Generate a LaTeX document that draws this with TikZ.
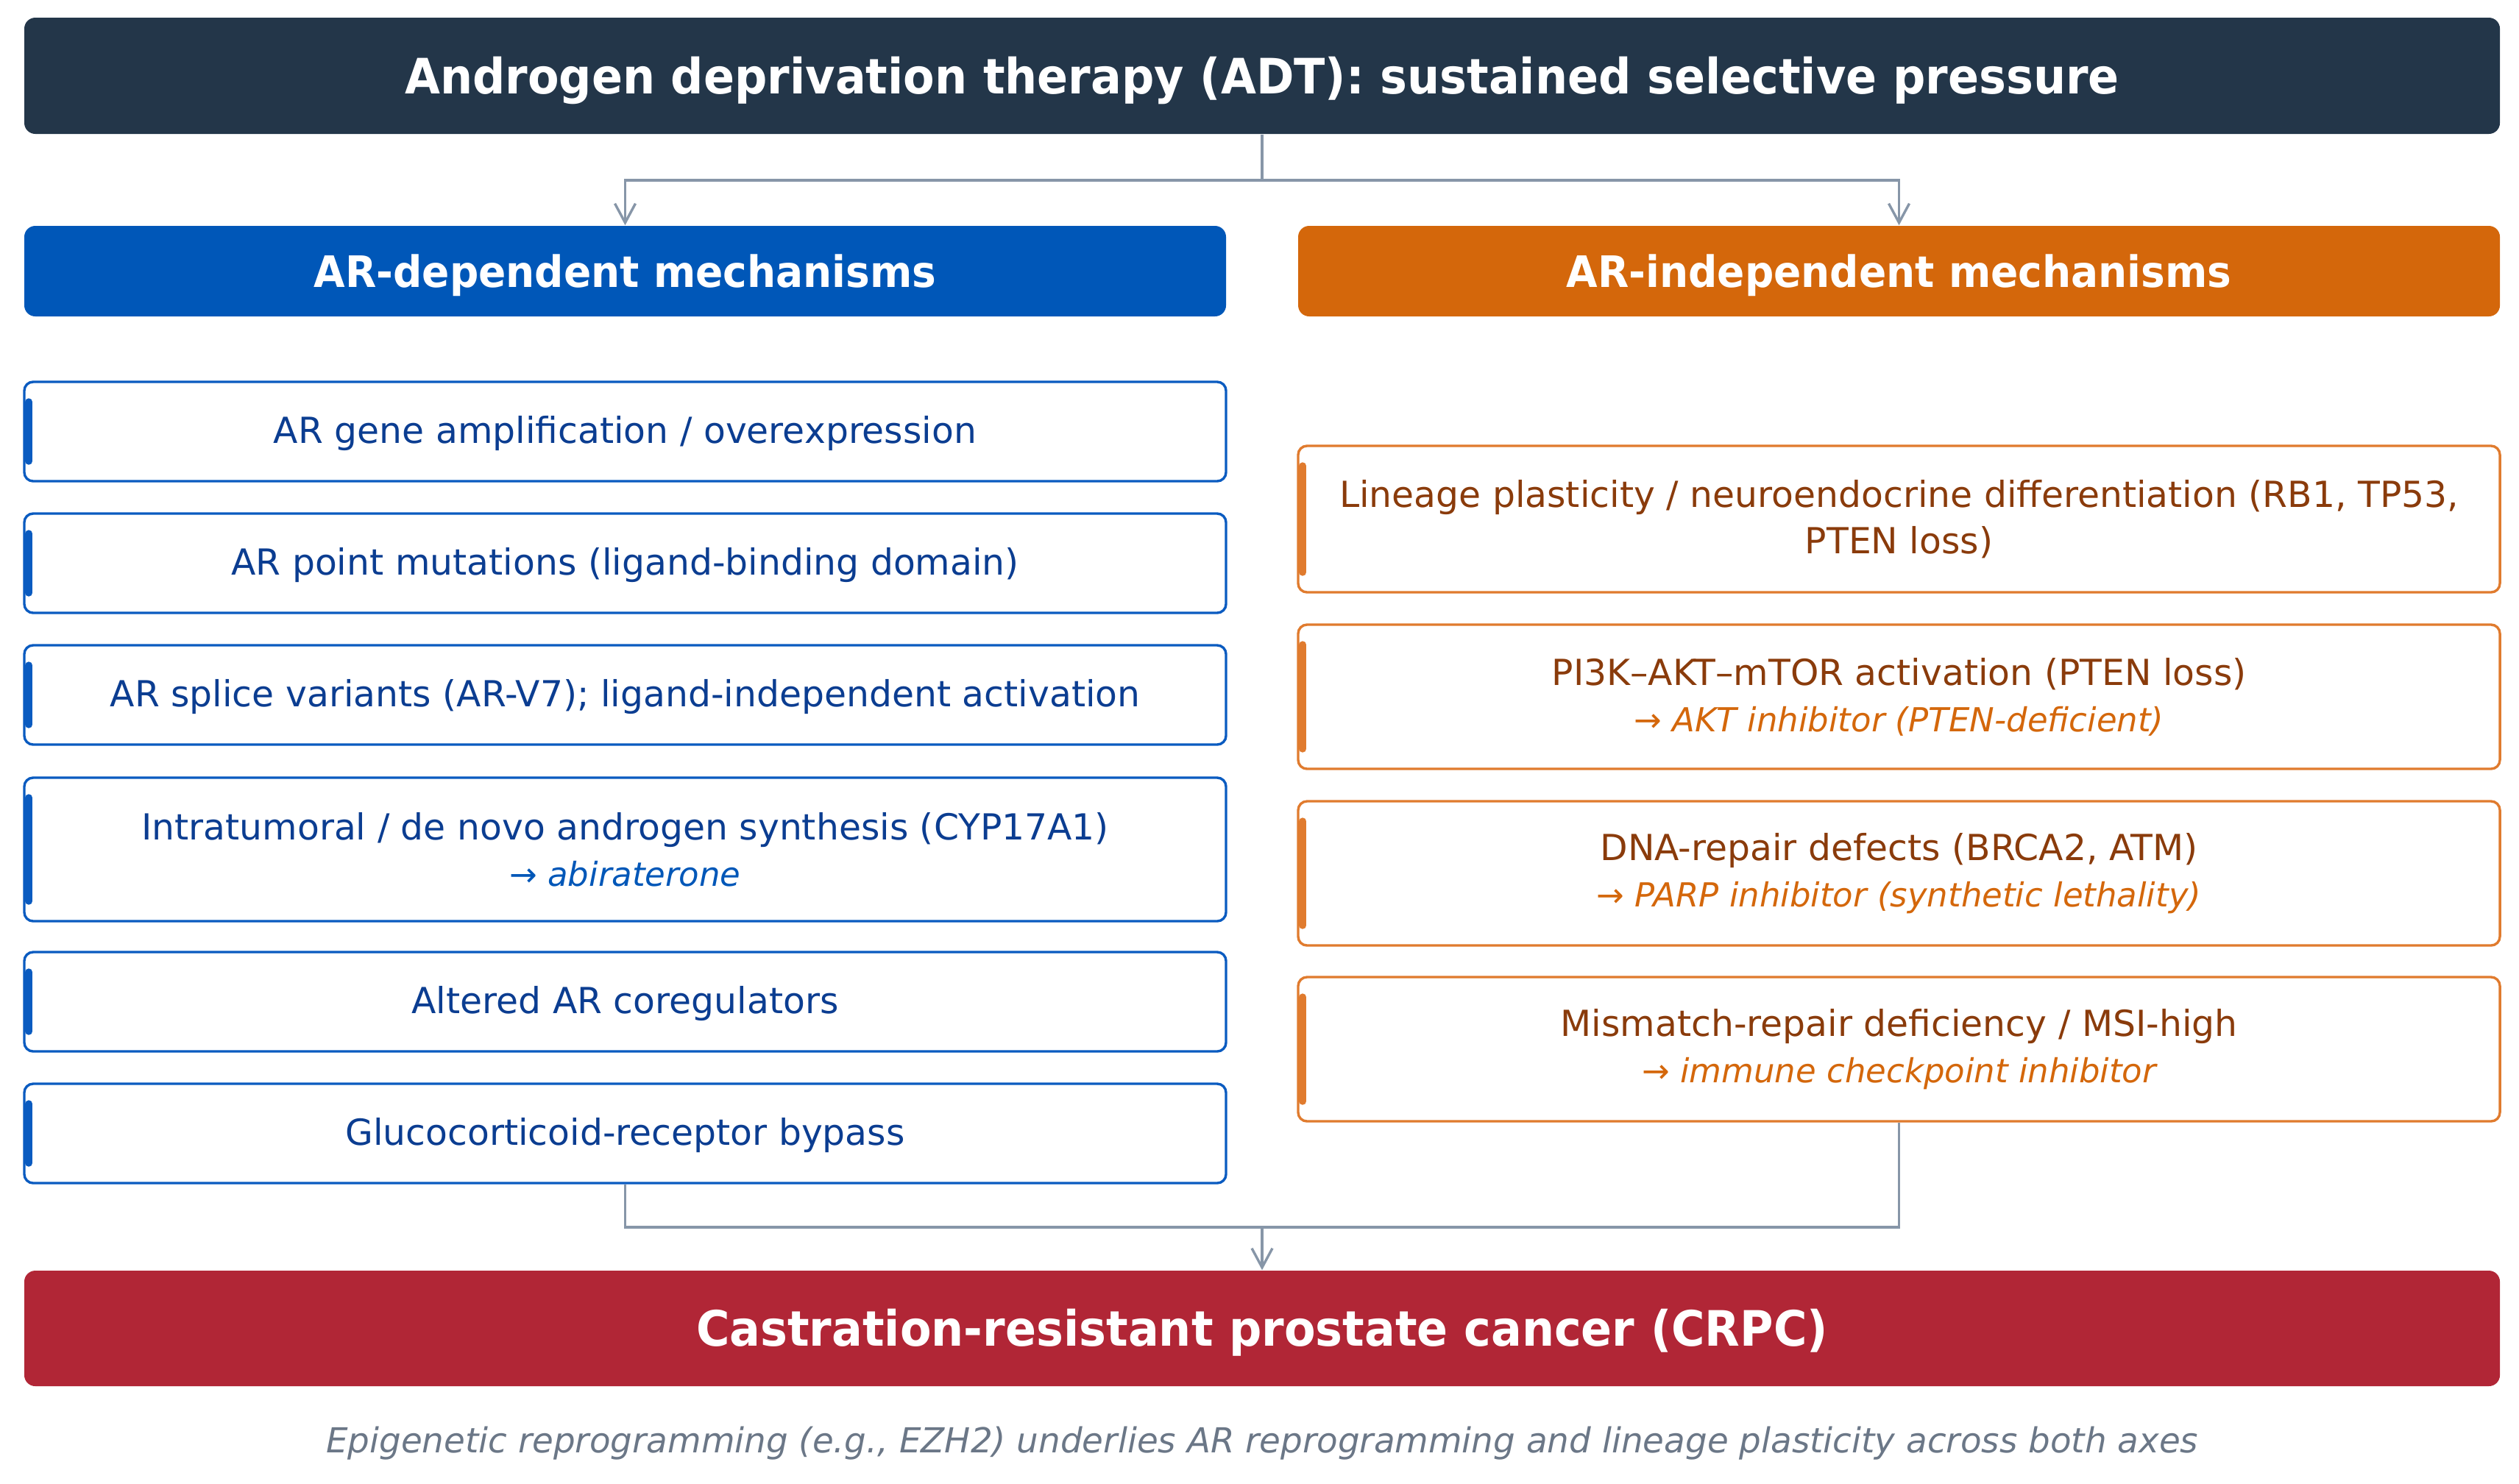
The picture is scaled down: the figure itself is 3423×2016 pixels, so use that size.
\documentclass[tikz,border=0pt]{standalone}
\usepackage{fontspec}
\usepackage{graphicx}
\setmainfont{DejaVu Sans}
\usetikzlibrary{arrows.meta}
\definecolor{titlebg}{HTML}{233649}
\definecolor{bluehdr}{HTML}{0057B8}
\definecolor{orangehdr}{HTML}{D4670B}
\definecolor{crpcbg}{HTML}{B12636}
\definecolor{lborder}{HTML}{0A5BC0}
\definecolor{ltext}{HTML}{0B3D91}
\definecolor{lsub}{HTML}{0057B8}
\definecolor{rborder}{HTML}{E07B2E}
\definecolor{rtext}{HTML}{8A3B0B}
\definecolor{rsub}{HTML}{D4670B}
\definecolor{conncol}{HTML}{8796A8}
\definecolor{footcol}{HTML}{6B7787}
\newcommand{\tallbold}[1]{\scalebox{1}[1.07]{#1}}
\newcommand{\subfont}{\fontsize{11.25pt}{15.8pt}\selectfont\itshape}
\begin{document}
\begin{tikzpicture}[x=0.25pt,y=-0.25pt,
  bar/.style={rounded corners=3.75pt, inner sep=0pt, text=white,
    font=\bfseries\fontsize{15.5pt}{18pt}\selectfont,
    text height=14pt, text depth=2pt,
    minimum width=3364*0.25pt, minimum height=158*0.25pt},
  hdr/.style={rounded corners=3.75pt, inner sep=0pt, text=white,
    font=\bfseries\fontsize{13.75pt}{16pt}\selectfont,
    text height=13pt, text depth=2pt,
    minimum width=1633*0.25pt, minimum height=123*0.25pt},
  mbox/.style={line width=0.85pt, fill=white, rounded corners=3pt,
    minimum width=1633*0.25pt, inner sep=0pt, align=center,
    font=\fontsize{12.2pt}{15.8pt}\selectfont},
  oneline/.style={text height=10.75pt, text depth=3pt},
  lbox/.style={mbox, draw=lborder, text=ltext, minimum height=135*0.25pt},
  rbox/.style={mbox, draw=rborder, text=rtext, minimum height=196*0.25pt},
  laccent/.style={draw=lborder, line width=2.5pt, line cap=round},
  raccent/.style={draw=rborder, line width=2.5pt, line cap=round},
  conn/.style={draw=conncol, line width=0.85pt},
  arr/.style={conn, -{Straight Barb[length=6.5pt,width=7pt]}},
]
\useasboundingbox (0,0) rectangle (3423,2016);

% top bar
\node[bar, fill=titlebg] (title) at (1715,103) {\tallbold{Androgen deprivation therapy (ADT): sustained selective pressure}};

% headers
\node[hdr, fill=bluehdr] (hdrL) at (849.5,368.5) {\tallbold{AR-dependent mechanisms}};
\node[hdr, fill=orangehdr] (hdrR) at (2580.5,368.5) {\tallbold{AR-independent mechanisms}};

% left boxes
\node[lbox, oneline] (L1) at (849.5,586.5) {AR gene amplification / overexpression};
\node[lbox, oneline] (L2) at (849.5,765.5) {AR point mutations (ligand-binding domain)};
\node[lbox, oneline] (L3) at (849.5,944.5) {AR splice variants (AR-V7); ligand-independent activation};
\node[lbox, minimum height=195*0.25pt] (L4) at (849.5,1154.5) {Intratumoral / de novo androgen synthesis (CYP17A1)\\{\subfont\color{lsub}→ abiraterone}};
\node[lbox, oneline] (L5) at (849.5,1361.5) {Altered AR coregulators};
\node[lbox, oneline] (L6) at (849.5,1540.5) {Glucocorticoid-receptor bypass};

% right boxes
\node[rbox, minimum height=199*0.25pt] (R1) at (2580.5,705.5) {Lineage plasticity / neuroendocrine differentiation (RB1, TP53,\\PTEN loss)};
\node[rbox] (R2) at (2580.5,947) {PI3K–AKT–mTOR activation (PTEN loss)\\{\subfont\color{rsub}→ AKT inhibitor (PTEN-deficient)}};
\node[rbox] (R3) at (2580.5,1187) {DNA-repair defects (BRCA2, ATM)\\{\subfont\color{rsub}→ PARP inhibitor (synthetic lethality)}};
\node[rbox] (R4) at (2580.5,1426) {Mismatch-repair deficiency / MSI-high\\{\subfont\color{rsub}→ immune checkpoint inhibitor}};

% accent bars
\foreach \n in {L1,L2,L3,L4,L5,L6}{
  \draw[laccent] ([xshift=2pt,yshift=-7.25pt]\n.north west) -- ([xshift=2pt,yshift=7.25pt]\n.south west);
}
\foreach \n in {R1,R2,R3,R4}{
  \draw[raccent] ([xshift=2pt,yshift=-7.25pt]\n.north west) -- ([xshift=2pt,yshift=7.25pt]\n.south west);
}

% bottom bar
\node[bar, fill=crpcbg, minimum height=157*0.25pt] (crpc) at (1715,1805.5) {\tallbold{Castration-resistant prostate cancer (CRPC)}};

% footnote
\node[inner sep=0pt, text=footcol, text height=11pt, text depth=2pt,
  font=\itshape\fontsize{11.7pt}{14pt}\selectfont] (note) at (1715,1956) {Epigenetic reprogramming (e.g., EZH2) underlies AR reprogramming and lineage plasticity across both axes};

% connectors
\coordinate (split) at (1715,245);
\coordinate (merge) at (1715,1668);
\draw[conn] (title.south) -- (split);
\draw[arr] (split) -| (hdrL.north);
\draw[arr] (split) -| (hdrR.north);
\draw[conn] (L6.south) |- (merge);
\draw[conn] (R4.south) |- (merge);
\draw[arr] (merge) -- (crpc.north);
\end{tikzpicture}
\end{document}
